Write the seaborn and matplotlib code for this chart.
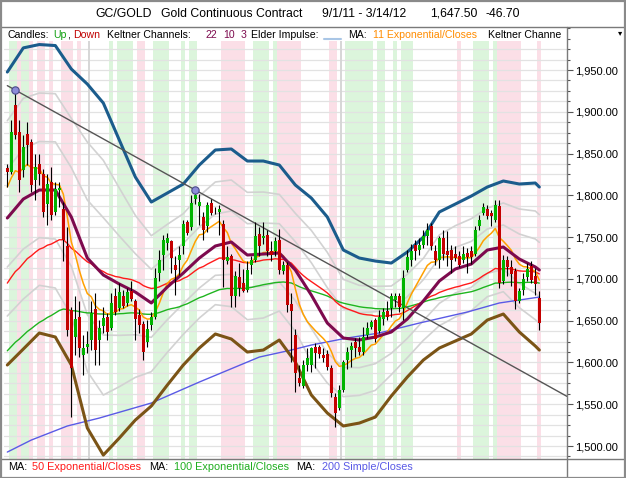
import numpy as np
import pandas as pd
import matplotlib
matplotlib.use("Agg")
import matplotlib.pyplot as plt
import seaborn as sns
from matplotlib.lines import Line2D
from matplotlib.patches import Rectangle
from matplotlib.ticker import MultipleLocator, FixedLocator, FuncFormatter

# ---------------- data ----------------
opens = [1833, 1828, 1908, 1876, 1830, 1873, 1864, 1818, 1838, 1826,
         1790, 1816, 1780, 1806, 1784, 1740, 1663, 1631, 1655, 1609,
         1619, 1627, 1664, 1627, 1644, 1655, 1641, 1680, 1665, 1679,
         1671, 1686, 1673, 1657, 1646, 1625, 1645, 1655, 1707, 1729,
         1743, 1745, 1717, 1723, 1740, 1768, 1762, 1796, 1787, 1774,
         1763, 1791, 1782, 1780, 1766, 1722, 1727, 1679, 1702, 1695,
         1687, 1717, 1723, 1754, 1749, 1752, 1733, 1734, 1746, 1710,
         1717, 1670, 1633, 1582, 1572, 1597, 1597, 1618, 1619, 1609,
         1610, 1594, 1559, 1546, 1567, 1603, 1615, 1624, 1619, 1613,
         1633, 1643, 1651, 1638, 1652, 1662, 1665, 1675, 1679, 1665,
         1711, 1723, 1741, 1735, 1741, 1751, 1763, 1733, 1723, 1749,
         1733, 1735, 1730, 1727, 1723, 1731, 1733, 1730, 1763, 1779,
         1784, 1779, 1771, 1787, 1697, 1723, 1714, 1709, 1674, 1687,
         1702, 1715, 1703, 1677]
highs = [1837, 1890, 1926, 1890, 1872, 1888, 1868, 1850, 1850, 1832,
         1826, 1834, 1816, 1816, 1792, 1762, 1666, 1680, 1673, 1633,
         1638, 1673, 1683, 1651, 1667, 1659, 1683, 1689, 1695, 1687,
         1689, 1698, 1676, 1664, 1650, 1651, 1661, 1713, 1735, 1752,
         1755, 1747, 1727, 1740, 1770, 1771, 1800, 1806, 1802, 1780,
         1792, 1796, 1786, 1788, 1770, 1740, 1730, 1709, 1719, 1712,
         1721, 1727, 1768, 1762, 1768, 1758, 1745, 1750, 1760, 1722,
         1720, 1683, 1640, 1597, 1603, 1617, 1619, 1623, 1621, 1617,
         1615, 1597, 1563, 1573, 1603, 1619, 1625, 1629, 1631, 1643,
         1648, 1651, 1653, 1663, 1665, 1673, 1683, 1683, 1683, 1711,
         1735, 1742, 1747, 1749, 1759, 1767, 1767, 1741, 1751, 1759,
         1757, 1741, 1739, 1733, 1739, 1737, 1739, 1763, 1777, 1791,
         1789, 1782, 1794, 1794, 1729, 1727, 1723, 1713, 1689, 1707,
         1719, 1721, 1713, 1685]
lows = [1810, 1826, 1868, 1804, 1822, 1836, 1804, 1794, 1812, 1774,
        1765, 1770, 1776, 1786, 1722, 1632, 1535, 1609, 1606, 1585,
        1611, 1615, 1597, 1597, 1635, 1627, 1639, 1657, 1662, 1665,
        1668, 1673, 1627, 1635, 1603, 1619, 1639, 1652, 1697, 1711,
        1735, 1707, 1681, 1705, 1730, 1752, 1758, 1790, 1765, 1747,
        1756, 1776, 1778, 1752, 1690, 1718, 1667, 1667, 1679, 1684,
        1684, 1706, 1720, 1728, 1742, 1728, 1722, 1728, 1706, 1706,
        1661, 1600, 1565, 1572, 1570, 1590, 1589, 1593, 1605, 1601,
        1591, 1559, 1523, 1543, 1565, 1592, 1595, 1607, 1609, 1609,
        1629, 1640, 1625, 1635, 1645, 1651, 1655, 1667, 1661, 1651,
        1708, 1716, 1723, 1729, 1737, 1741, 1735, 1717, 1713, 1723,
        1715, 1707, 1721, 1714, 1719, 1707, 1718, 1727, 1759, 1776,
        1772, 1763, 1768, 1689, 1694, 1703, 1691, 1664, 1671, 1681,
        1698, 1695, 1681, 1639]
closes = [1828, 1876, 1872, 1818, 1858, 1860, 1812, 1834, 1826, 1780,
          1814, 1777, 1808, 1809, 1746, 1639, 1593, 1652, 1617, 1617,
          1622, 1659, 1615, 1641, 1653, 1636, 1671, 1660, 1684, 1668,
          1684, 1676, 1652, 1645, 1612, 1640, 1655, 1701, 1723, 1747,
          1749, 1725, 1711, 1729, 1766, 1755, 1791, 1800, 1792, 1758,
          1788, 1779, 1783, 1784, 1723, 1726, 1679, 1703, 1689, 1686,
          1711, 1723, 1751, 1740, 1751, 1734, 1729, 1745, 1711, 1717,
          1669, 1662, 1587, 1576, 1597, 1605, 1617, 1611, 1610, 1605,
          1595, 1564, 1540, 1567, 1601, 1612, 1620, 1617, 1612, 1631,
          1641, 1648, 1628, 1655, 1661, 1654, 1679, 1679, 1666, 1701,
          1726, 1734, 1734, 1741, 1751, 1759, 1739, 1723, 1749, 1730,
          1729, 1723, 1725, 1717, 1730, 1726, 1726, 1759, 1771, 1786,
          1775, 1775, 1789, 1695, 1723, 1714, 1706, 1674, 1685, 1700,
          1712, 1699, 1694.2, 1647.5]

# Elder impulse background per candle: g = green, r = red, . = neutral
impulse = (".ggrggr.rr" ".r..rrr.r." "......g.gg" "gg.rr..ggg" "g...g.gg.."
           "....rrrrrr" "..gggg.grr" "rrrr......" ".rr..ggggg" "gg.gg..g.g"
           "gg........" "...r...ggg" "g.grrrrrr." "...r")

# Keltner channel (22 EMA, 10 ATR, x3) read at sample candles
kc_idx = [0, 4, 8, 12, 16, 20, 24, 28, 32, 36, 40, 44, 48, 52, 56, 60, 64,
          68, 72, 76, 80, 84, 88, 92, 96, 100, 104, 108, 112, 116, 120, 124,
          128, 132, 133]
kc_upper = [1947.6, 1976.5, 1980.5, 1979.3, 1951.2, 1933.2, 1910.5, 1866.2,
            1822.0, 1792.0, 1802.8, 1813.6, 1836.3, 1854.3, 1855.5, 1841.1,
            1841.1, 1836.3, 1812.4, 1796.8, 1774.1, 1734.6, 1725.0, 1721.4,
            1719.0, 1732.2, 1750.0, 1780.1, 1789.6, 1799.2, 1810.0, 1817.2,
            1813.6, 1814.8, 1810.0]
kc_mid = [1772.9, 1795.6, 1806.4, 1806.4, 1774.1, 1725.0, 1704.7, 1693.9,
          1684.3, 1671.2, 1690.3, 1707.1, 1725.0, 1739.4, 1744.2, 1728.6,
          1729.8, 1731.0, 1710.7, 1680.7, 1647.2, 1629.3, 1626.9, 1630.5,
          1636.5, 1652.0, 1673.6, 1697.5, 1711.9, 1717.8, 1734.6, 1738.2,
          1723.8, 1714.3, 1710.7]
kc_lower = [1597.0, 1616.1, 1635.3, 1630.5, 1597.0, 1521.6, 1489.2, 1509.6,
            1531.1, 1547.9, 1573.0, 1597.0, 1617.3, 1634.1, 1628.1, 1612.5,
            1614.9, 1626.9, 1600.6, 1561.1, 1539.5, 1524.0, 1527.5, 1534.7,
            1559.9, 1582.6, 1602.9, 1617.3, 1625.7, 1634.1, 1650.8, 1658.0,
            1636.5, 1619.7, 1614.9]

# 200-day simple MA read at sample candles
sma200_idx = [0, 6, 15, 23, 36, 48, 63, 71, 76, 85, 93, 103, 115, 123, 133]
sma200 = [1492.8, 1507.2, 1524.0, 1533.5, 1551.5, 1576.6, 1606.5, 1614.9,
          1620.9, 1629.3, 1635.3, 1647.2, 1660.4, 1671.2, 1678.3]

# exponential MA values on the first candle (history before the window)
ema_spans = [11, 50, 100]
ema_start = [1810, 1695, 1614]

# trend line anchors (candle index, price)
trend_idx = [2, 47]
trend_val = [1926, 1806.4]

ytick_values = [1500, 1550, 1600, 1650, 1700, 1750, 1800, 1850, 1900, 1950]

# ---------------- layout ----------------
W, H = 626, 478
def fx(x): return x / W
def fy(y): return 1 - y / H

sns.set_theme(style="white")
plt.rcParams['font.family'] = ['Liberation Sans', 'DejaVu Sans']

fig = plt.figure(figsize=(W / 100, H / 100), dpi=100)
fig.patch.set_facecolor("white")
AX_L, AX_R, AX_T, AX_B = 4, 567, 28, 459
ax = fig.add_axes([fx(AX_L), fy(AX_B), (AX_R - AX_L) / W, (AX_B - AX_T) / H])
ax.set_facecolor("white")
n = len(closes)
idx = np.arange(n)
xmin = -0.83
xmax = xmin + (AX_R - AX_L) / 4.0
ax.set_xlim(xmin, xmax)
ax.set_ylim(1484.5, 2000.3)

# impulse stripes
for i, s in enumerate(impulse):
    if s == 'g':
        ax.axvspan(i - 0.5, i + 0.5, color="#dcf5dc", lw=0, zorder=0.1)
    elif s == 'r':
        ax.axvspan(i - 0.5, i + 0.5, color="#fbdfe7", lw=0, zorder=0.1)

# grid
ax.yaxis.set_major_locator(FixedLocator(ytick_values))
ax.yaxis.set_minor_locator(MultipleLocator(12.5))
ax.yaxis.set_major_formatter(FuncFormatter(lambda v, p: f"{v:,.2f}"))
ax.grid(axis='y', which='both', color='#e2e2e2', lw=0.9)
ax.set_axisbelow(True)
for q in [20.5, 83.5]:
    ax.axvline(q, color='#d6d6d6', lw=1.4, zorder=0.6)

ax.yaxis.tick_right()
ax.tick_params(axis='y', which='major', right=True, left=False, labelright=True,
               labelleft=False, length=4, width=0.8, color='#555555',
               labelsize=8, pad=2, labelcolor='black')
ax.tick_params(axis='y', which='minor', right=True, left=False, length=2.5,
               width=0.8, color='#555555')
ax.set_xticks([])
for sp in ax.spines.values():
    sp.set_visible(False)

# ---------------- indicator lines ----------------
def ema(values, span, start):
    a = 2.0 / (span + 1)
    out = [start]
    for v in values[1:]:
        out.append(out[-1] + a * (v - out[-1]))
    return out

ma = pd.DataFrame({"i": idx})
for sp_, st in zip(ema_spans, ema_start):
    ma[f"ema{sp_}"] = ema(closes, sp_, st)

kc = pd.DataFrame({"i": kc_idx, "up": kc_upper, "mid": kc_mid, "lo": kc_lower})
kc["up1"] = kc["mid"] + (kc["up"] - kc["mid"]) / 3
kc["up2"] = kc["mid"] + 2 * (kc["up"] - kc["mid"]) / 3
kc["lo1"] = kc["mid"] - (kc["mid"] - kc["lo"]) / 3
kc["lo2"] = kc["mid"] - 2 * (kc["mid"] - kc["lo"]) / 3

sma = pd.DataFrame({"i": sma200_idx, "v": sma200})

common = dict(ax=ax, estimator=None, legend=False, sort=False)
for col in ["up1", "up2", "lo1", "lo2"]:
    sns.lineplot(data=kc, x="i", y=col, color="#d2d2d2", lw=1.2, zorder=2, **common)
sns.lineplot(data=sma, x="i", y="v", color="#5a5ae6", lw=1.0, zorder=3, **common)
sns.lineplot(data=ma, x="i", y="ema100", color="#1fb51f", lw=1.0, zorder=3, **common)
sns.lineplot(data=ma, x="i", y="ema50", color="#ff1a1a", lw=1.0, zorder=3, **common)
sns.lineplot(data=ma, x="i", y="ema11", color="#ffa000", lw=1.1, zorder=3.5, **common)
sns.lineplot(data=kc, x="i", y="mid", color="#7d0a4e", lw=2.2, zorder=4, **common)
sns.lineplot(data=kc, x="i", y="up", color="#1b5c8c", lw=2.2, zorder=4, **common)
sns.lineplot(data=kc, x="i", y="lo", color="#7b5416", lw=2.2, zorder=4, **common)

# trend line
slope = (trend_val[1] - trend_val[0]) / (trend_idx[1] - trend_idx[0])
tx = np.array([0, xmax])
ty = trend_val[0] + slope * (tx - trend_idx[0])
ax.plot(tx, ty, color="#555555", lw=1.0, zorder=5)

# candles
o = np.array(opens, float); c = np.array(closes, float)
hi = np.array(highs, float); lo = np.array(lows, float)
up = c >= o
ax.vlines(idx, lo, hi, color="black", lw=0.8, zorder=6)
body_h = np.maximum(np.abs(c - o), 1.0)
ax.bar(idx, body_h, bottom=np.minimum(o, c), width=0.75,
       color=np.where(up, "#00b400", "#c40000"), linewidth=0, zorder=7)
ax.scatter(trend_idx, trend_val, s=28, color="#8c8cd8", edgecolors="#4a4a8a",
           linewidths=0.8, zorder=9)

# seaborn sets axis labels from column names: clear them
ax.set_xlabel("")
ax.set_ylabel("")

# ---------------- frame, title and legends ----------------
fig.add_artist(Rectangle((fx(AX_L), fy(41)), (AX_R - AX_L) / W, 13 / H,
                         transform=fig.transFigure, fc="white", ec="none", zorder=1))
line_kw = dict(transform=fig.transFigure, color="#7a7a7a", lw=1.0, zorder=2)
fig.add_artist(Line2D([0, 1], [fy(27), fy(27)], **line_kw))
fig.add_artist(Line2D([0, 1], [fy(459), fy(459)], **line_kw))
fig.add_artist(Line2D([fx(567), fx(567)], [fy(27), 0], **line_kw))
fig.add_artist(Rectangle((0.0008, 0.001), 0.998, 0.997, transform=fig.transFigure,
                         fill=False, ec="#8a8a8a", lw=1.6, zorder=2))

tkw = dict(ha="left", va="center", fontsize=8.8, color="black")
ty_ = fy(14)
fig.text(fx(95), ty_, "GC/GOLD", **tkw)
fig.text(fx(161), ty_, "Gold Continuous Contract", **tkw)
fig.text(fx(322), ty_, "9/1/11 - 3/14/12", **tkw)
fig.text(fx(430), ty_, "1,647.50", **tkw)
fig.text(fx(486), ty_, "-46.70", **tkw)

lkw = dict(ha="left", va="center", fontsize=7.6, zorder=3)
ly = fy(35)
for x, s, col in [(7, "Candles:", "black"), (53, "Up", "#10a010"), (67, ",", "black"),
                  (73, "Down", "#c00000"), (107, "Keltner Channels:", "black"),
                  (205, "22", "#7d0a4e"), (223, "10", "#7d0a4e"), (241, "3", "#7d0a4e"),
                  (251, "Elder Impulse:", "black"), (348, "MA:", "black"),
                  (373, "11 Exponential/Closes", "#ff8c00"), (488, "Keltner Channe", "black")]:
    fig.text(fx(x), ly, s, color=col, **lkw)
fig.add_artist(Line2D([fx(324), fx(341)], [fy(38.5), fy(38.5)], transform=fig.transFigure,
                      color="#a9c6e6", lw=1.5, zorder=3))
fig.text(fx(620), fy(33), "\u25BE", ha="center", va="center", fontsize=6,
         color="black", family="DejaVu Sans")

by = fy(467)
for x, s, col in [(8, "MA:", "black"), (32, "50 Exponential/Closes", "#ff1a1a"),
                  (149, "MA:", "black"), (174, "100 Exponential/Closes", "#1fae1f"),
                  (296, "MA:", "black"), (322, "200 Simple/Closes", "#5a5ae6")]:
    fig.text(fx(x), by, s, color=col, fontsize=7.8, ha="left", va="center", zorder=3)

fig.savefig("out.png", dpi=100, facecolor="white")
